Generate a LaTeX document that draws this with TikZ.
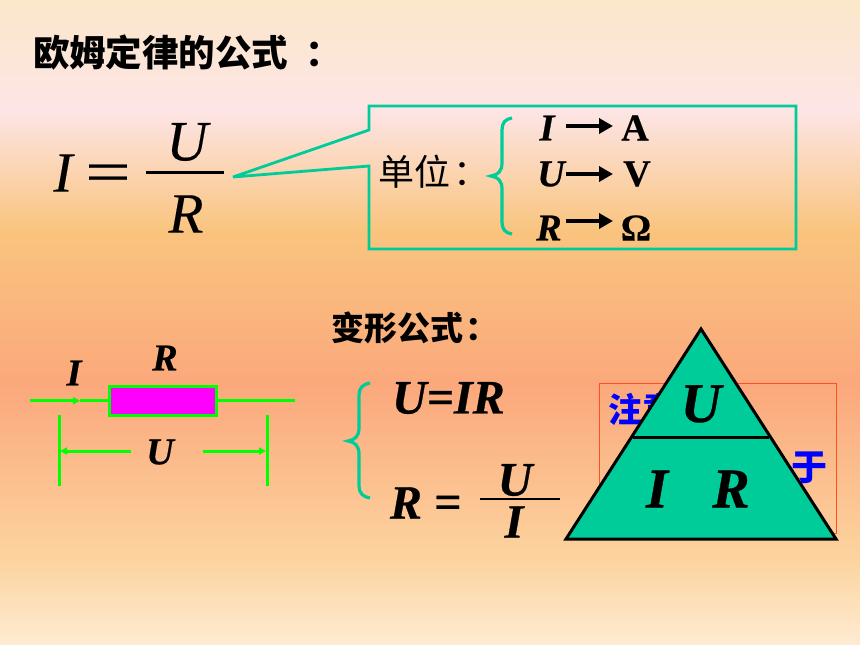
\documentclass[tikz,border=0pt]{standalone}
\usepackage{fontspec}
\usepackage{graphicx}
\setmainfont{Liberation Serif}
\newfontfamily\cjk{Noto Sans CJK SC}
\newfontface\hvi{Liberation Serif Bold Italic}[FakeBold=0.6]
\newfontface\hvu{Liberation Serif Bold}[FakeBold=0.4]
\newfontface\mdi{Liberation Serif Italic}[FakeBold=0.25]
\newfontface\mdu{Liberation Serif}[FakeBold=0.25]
\usetikzlibrary{arrows.meta}
\definecolor{bgA}{HTML}{FBE7C9}
\definecolor{bgB}{HTML}{FDE5E6}
\definecolor{bgC}{HTML}{F9C47E}
\definecolor{bgD}{HTML}{FBA87C}
\definecolor{bgE}{HTML}{FCD49F}
\definecolor{bgF}{HTML}{FEEBD2}
\definecolor{teal}{HTML}{00CC99}
\definecolor{wire}{HTML}{00FF00}
\definecolor{mag}{HTML}{FF00FF}
\definecolor{noteline}{HTML}{FF5020}
\newcommand{\fs}[1]{\fontsize{#1}{#1}\selectfont}
\tikzset{
  txt/.style={inner sep=0pt,outer sep=0pt,text=black},
  bi/.style={txt,font=\fs{#1}\hvi},
  bu/.style={txt,font=\fs{#1}\hvu},
  ri/.style={txt,font=\fs{#1}\mdi},
  cjkb/.style={txt,font=\fs{#1}\cjk\bfseries},
  cjkr/.style={txt,font=\fs{#1}\cjk},
  unitarrow/.style={draw=black,line width=4.5pt,-{Triangle[length=14pt,width=15pt]}},
  wireline/.style={draw=wire,line width=3pt},
  wirearrow/.style={wireline,-{Triangle[length=7pt,width=7pt]}},
  bracepath/.style={draw=teal,line width=3.2pt},
  fracbar/.style={draw=black,line width=2.5pt},
}
\begin{document}
\begin{tikzpicture}[x=1pt,y=-1pt]
\useasboundingbox (0,0) rectangle (860,645);
% background
\shade[top color=bgA,bottom color=bgB] (0,0) rectangle (860,110.5);
\shade[top color=bgB,bottom color=bgC] (0,110) rectangle (860,230.5);
\shade[top color=bgC,bottom color=bgD] (0,230) rectangle (860,385.5);
\shade[top color=bgD,bottom color=bgE] (0,385) rectangle (860,560.5);
\shade[top color=bgE,bottom color=bgF] (0,560) rectangle (860,645);
% heading
\node[cjkb=36.5,anchor=west] (head) at (33,53) {欧姆定律的公式\kern17pt ：};
% main formula
\node[ri=57] (mainI) at (63,173) {I};
\node[txt,font=\fs{60}\mdu] (mainEq) at (108,178.4) {\scalebox{1.35}[1]{=}};
\node[ri=57] (mainU) at (187,142) {U};
\node[ri=57] (mainR) at (186,214) {R};
\coordinate (barL) at (146,172.5);
\coordinate (barR) at (224,172.5);
\draw[fracbar] (barL) -- (barR);
% callout
\draw[draw=teal,line width=2.8pt,line join=miter,miter limit=3]
  (369,106) -- (796,106) -- (796,249) -- (369,249) -- (369,166) -- (233,177) -- (369,130) -- cycle;
\node[cjkr=36,anchor=west] (unitlabel) at (378,172) {单位\kern4pt ：};
\draw[bracepath] (512,118) .. controls (505,119) and (502,123) .. (502,130)
  -- (502,163) .. controls (502,171) and (498,175) .. (491,176)
  .. controls (498,177) and (502,181) .. (502,189)
  -- (502,222) .. controls (502,229) and (505,233) .. (512,234);
\node[bi=38] (uI) at (547,128) {I};
\node[bi=38] (uU) at (551,174) {U};
\node[bi=38] (uR) at (549,228) {R};
\node[bu=38] (uA) at (635,128) {A};
\node[bu=38] (uV) at (637,174) {V};
\node[bu=38] (uO) at (636,228) {Ω};
\coordinate (a1s) at (566,126); \coordinate (a1e) at (613,126);
\coordinate (a2s) at (566,174); \coordinate (a2e) at (613,174);
\coordinate (a3s) at (566,221); \coordinate (a3e) at (613,221);
\draw[unitarrow] (a1s) -- (a1e);
\draw[unitarrow] (a2s) -- (a2e);
\draw[unitarrow] (a3s) -- (a3e);
% circuit
\node[draw=wire,line width=2.8pt,fill=mag,minimum width=107pt,minimum height=29pt,inner sep=0pt] (res) at (163,401) {};
\coordinate (wl) at (30,400.7);
\coordinate (wm) at (80,400.7);
\coordinate (wr) at (295,400.7);
\draw[wirearrow] (wl) -- (wm);
\draw[wireline] (wm) -- (res.west |- wm);
\draw[wireline] (res.east |- wr) -- (wr);
\coordinate (vlt) at (59,415); \coordinate (vlb) at (59,486);
\coordinate (vrt) at (267,415); \coordinate (vrb) at (267,486);
\draw[wireline] (vlt) -- (vlb);
\draw[wireline] (vrt) -- (vrb);
\coordinate (dl) at (60,451); \coordinate (dr) at (266,451);
\coordinate (dls) at (131,451); \coordinate (drs) at (203,451);
\draw[wirearrow] (dls) -- (dl);
\draw[wirearrow] (drs) -- (dr);
\node[bi=38] (cI) at (74,373) {I};
\node[bi=38] (cR) at (165,358) {R};
\node[bi=38] (cU) at (160,452) {U};
% derived formulas
\node[cjkb=33,anchor=west] (dhead) at (331,328) {变形公式\kern3pt ：};
\draw[bracepath] (370,383) .. controls (363,384) and (359,388) .. (359,395)
  -- (359,428) .. controls (359,436) and (355,440) .. (348,441)
  .. controls (355,442) and (359,446) .. (359,454)
  -- (359,486) .. controls (359,493) and (363,497) .. (370,498);
\node[bi=48,anchor=west] (f1) at (392,398) {U=IR};
\node[bi=48] (f2R) at (406,503) {R};
\node[bu=48] (f2Eq) at (448,507) {=};
\node[bi=48] (f2U) at (515,480) {U};
\node[bi=48] (f2I) at (514,522) {I};
\coordinate (b2L) at (480,499); \coordinate (b2R) at (560,499);
\draw[fracbar] (b2L) -- (b2R);
% note behind the triangle
\draw[draw=noteline,line width=1pt] (599,383.5) rectangle (836,533);
\node[txt,font=\fs{34}\cjk\bfseries,text=blue,anchor=west] (note1) at (608,409) {注意};
\node[txt,font=\fs{36}\cjk\bfseries,text=blue,anchor=east] (note2) at (827,468) {于};
% triangle
\draw[draw=black,fill=teal,line width=3pt,line join=miter] (701,329) -- (836,539) -- (566,539) -- cycle;
\coordinate (divL) at (633,437.5);
\coordinate (divR) at (769,437.5);
\draw[draw=black,line width=3pt] (divL) -- (divR);
\node[bi=56] (tU) at (701,404) {U};
\node[bi=56] (tI) at (657,489) {I};
\node[bi=56] (tR) at (731,489) {R};
\end{tikzpicture}
\end{document}
